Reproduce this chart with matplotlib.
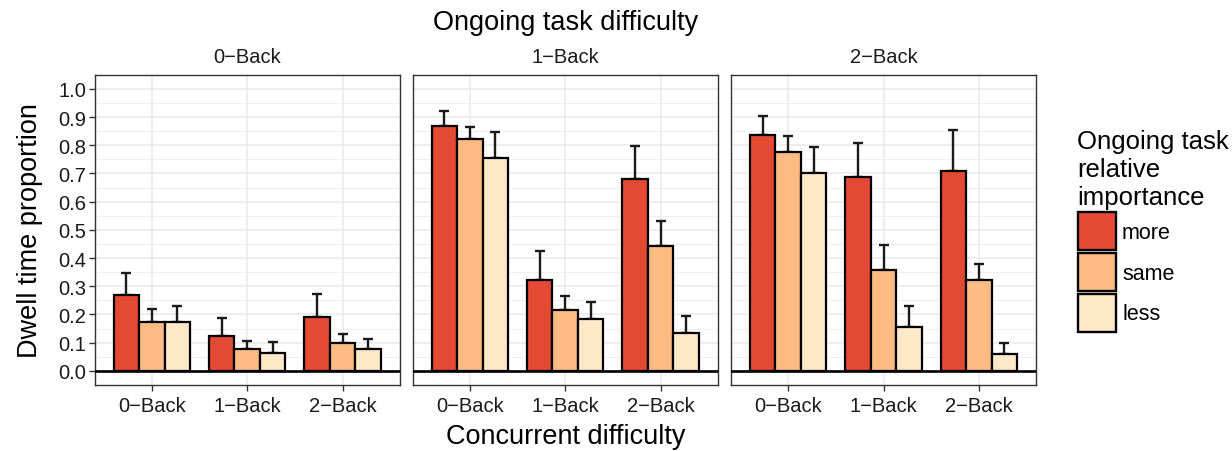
import matplotlib
matplotlib.use("Agg")
import matplotlib.pyplot as plt
from matplotlib.patches import Rectangle
import numpy as np

plt.rcParams['font.family'] = ['Liberation Sans', 'DejaVu Sans']

panels = ["0\u2212Back", "1\u2212Back", "2\u2212Back"]
concurrent = ["0\u2212Back", "1\u2212Back", "2\u2212Back"]
importance = ["more", "same", "less"]
legend_title = ["Ongoing task", "relative", "importance"]
colors = ["#E34A33", "#FDBB84", "#FEE8C8"]

# means[panel][importance][concurrent]
means_0back = [[0.269, 0.125, 0.192],
               [0.173, 0.079, 0.100],
               [0.173, 0.065, 0.076]]
means_1back = [[0.867, 0.323, 0.681],
               [0.823, 0.216, 0.443],
               [0.755, 0.185, 0.135]]
means_2back = [[0.836, 0.688, 0.709],
               [0.777, 0.359, 0.323],
               [0.702, 0.154, 0.061]]
upper_0back = [[0.346, 0.186, 0.271],
               [0.219, 0.106, 0.131],
               [0.229, 0.102, 0.112]]
upper_1back = [[0.923, 0.424, 0.799],
               [0.865, 0.265, 0.530],
               [0.848, 0.244, 0.196]]
upper_2back = [[0.903, 0.808, 0.854],
               [0.832, 0.445, 0.378],
               [0.795, 0.229, 0.098]]
all_means = [means_0back, means_1back, means_2back]
all_upper = [upper_0back, upper_1back, upper_2back]

W, H = 1232, 452
fig = plt.figure(figsize=(W / 100, H / 100), dpi=100)

lefts = [94.7, 412.7, 731.0]
pw = 305.0
top, bottom = 75.7, 386.0

bw = 0.8 / 3
x = np.arange(1, 4)
for p in range(3):
    ax = fig.add_axes([lefts[p] / W, 1 - bottom / H, pw / W, (bottom - top) / H])
    ax.set_xlim(0.4, 3.6)
    ax.set_ylim(-0.05, 1.05)
    ax.set_yticks(np.arange(0, 1.01, 0.1))
    ax.set_yticks(np.arange(0.05, 1.05, 0.1), minor=True)
    ax.set_xticks(x)
    ax.grid(which='major', axis='both', color='#EBEBEB', linewidth=1.2, zorder=0)
    ax.grid(which='minor', axis='y', color='#EFEFEF', linewidth=0.7, zorder=0)
    ax.set_axisbelow(True)
    for i in range(3):
        xs = x + (i - 1) * bw
        m = np.array(all_means[p][i])
        u = np.array(all_upper[p][i])
        ax.errorbar(xs, u, yerr=[u - m, np.zeros(3)], fmt='none', ecolor='#1a1a1a',
                    elinewidth=1.7, capsize=3.3, capthick=1.7, zorder=2)
        ax.bar(xs, m, width=bw, color=colors[i], edgecolor='black', linewidth=1.6, zorder=3)
    ax.axhline(0, color='black', linewidth=1.9, zorder=4)
    for s in ax.spines.values():
        s.set_color('#333333')
        s.set_linewidth(1.0)
    ax.set_xticklabels(concurrent, fontsize=14.5)
    ax.tick_params(axis='x', length=4, width=1, color='#333333', labelcolor='#1a1a1a', pad=4)
    if p == 0:
        ax.set_yticklabels([f"{v:.1f}" for v in np.arange(0, 1.01, 0.1)], fontsize=14.5)
        ax.tick_params(axis='y', which='major', length=4, width=1, color='#333333',
                       labelcolor='#1a1a1a', pad=2)
        ax.tick_params(axis='y', which='minor', length=0)
    else:
        ax.tick_params(axis='y', which='both', length=0, labelleft=False)
    ax.set_title(panels[p], fontsize=14.5, pad=9, color='#1a1a1a')

fig.text(566 / W, 1 - 23 / H, "Ongoing task difficulty", ha='center', va='center', fontsize=19.5)
fig.text(566 / W, 1 - 437 / H, "Concurrent difficulty", ha='center', va='center', fontsize=19.5)
fig.text(30 / W, 1 - 231 / H, "Dwell time proportion", ha='center', va='center',
         rotation=90, fontsize=19.5)

# legend
for j, line in enumerate(legend_title):
    fig.text(1077 / W, 1 - (149.3 + 28 * j) / H, line, ha='left', va='baseline', fontsize=18.5)
key_tops = [213.3, 254.0, 295.0]
for i, lab in enumerate(importance):
    kt = key_tops[i]
    fig.add_artist(Rectangle((1077.5 / W, 1 - (kt + 38) / H), 38 / W, 38 / H,
                             transform=fig.transFigure, facecolor=colors[i],
                             edgecolor='black', linewidth=1.7))
    fig.text(1122 / W, 1 - (kt + 20) / H, lab, ha='left', va='center', fontsize=15.5)

fig.savefig("out.png", dpi=100)
